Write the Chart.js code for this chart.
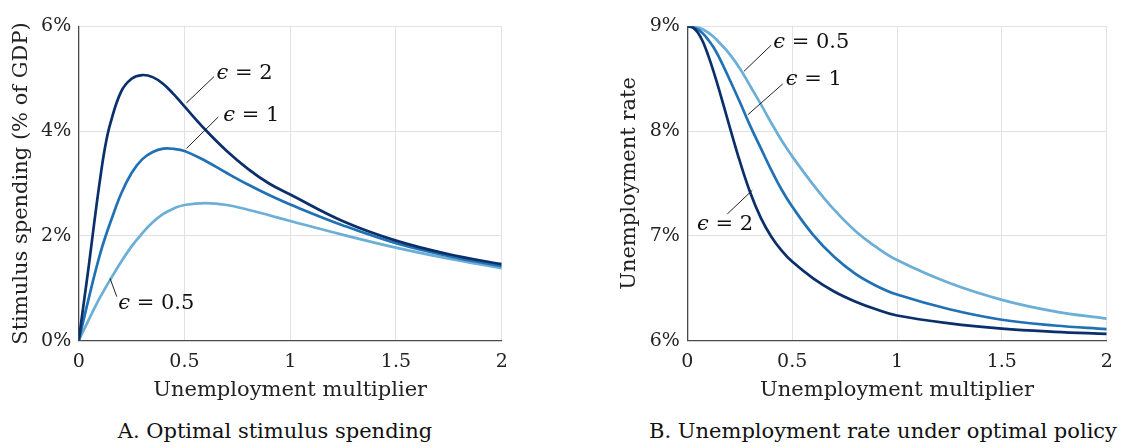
<!DOCTYPE html>
<html>
<head>
<meta charset="utf-8">
<script src="https://cdn.jsdelivr.net/npm/chart.js@4.4.1/dist/chart.umd.min.js"></script>
<style>
  body { margin: 0; background: #fff; width: 1127px; height: 448px; position: relative; overflow: hidden; font-family: "DejaVu Serif", serif; }
  #boxA { position: absolute; left: 0; top: 0; width: 560px; height: 410px; }
  #boxB { position: absolute; left: 600px; top: 0; width: 527px; height: 410px; }
  .cap { position: absolute; top: 419px; font-size: 21px; line-height: 24px; color: #111; white-space: nowrap; transform: translateX(-50%); }
</style>
</head>
<body>
<div id="boxA"><canvas id="chartA"></canvas></div>
<div id="boxB"><canvas id="chartB"></canvas></div>
<div class="cap" style="left:275px">A. Optimal stimulus spending</div>
<div class="cap" style="left:883px">B. Unemployment rate under optimal policy</div>

<script>
// unemployment multiplier (x) sample points, shared by both panels
const multiplier = [0, 0.025, 0.05, 0.075, 0.1, 0.125, 0.15, 0.2, 0.25, 0.3, 0.35, 0.4, 0.45, 0.5, 0.6, 0.7, 0.8, 0.9, 1, 1.25, 1.5, 1.75, 2];

// panel A: stimulus spending, % of GDP
const spendEps2   = [0, 0.75, 1.5, 2.3, 3.05, 3.7, 4.15, 4.75, 5.0, 5.07, 5.03, 4.9, 4.7, 4.47, 4.02, 3.62, 3.28, 3.0, 2.79, 2.28, 1.91, 1.65, 1.46];
const spendEps1   = [0, 0.43, 0.85, 1.26, 1.64, 1.97, 2.26, 2.8, 3.2, 3.46, 3.6, 3.665, 3.66, 3.62, 3.43, 3.2, 2.98, 2.78, 2.6, 2.2, 1.86, 1.615, 1.42];
const spendEps05  = [0, 0.21, 0.42, 0.625, 0.82, 1.0, 1.17, 1.5, 1.8, 2.05, 2.26, 2.42, 2.525, 2.59, 2.625, 2.59, 2.5, 2.395, 2.285, 2.02, 1.775, 1.565, 1.385];

// panel B: unemployment rate, %
const unempEps2   = [9, 8.99, 8.94, 8.85, 8.72, 8.57, 8.405, 8.055, 7.715, 7.415, 7.175, 6.995, 6.86, 6.755, 6.595, 6.47, 6.375, 6.3, 6.24, 6.165, 6.115, 6.085, 6.065];
const unempEps1   = [9, 8.995, 8.97, 8.93, 8.87, 8.8, 8.71, 8.5, 8.28, 8.05, 7.84, 7.63, 7.44, 7.28, 7.01, 6.8, 6.64, 6.525, 6.44, 6.3, 6.2, 6.145, 6.11];
const unempEps05  = [9, 9.0, 8.99, 8.97, 8.94, 8.9, 8.85, 8.74, 8.6, 8.43, 8.26, 8.08, 7.91, 7.76, 7.49, 7.25, 7.05, 6.895, 6.77, 6.55, 6.39, 6.28, 6.21];

const xTicks = [0, 0.5, 1, 1.5, 2];
const yTicksA = [0, 2, 4, 6];
const yTicksB = [6, 7, 8, 9];

const DARK = '#0a2f6b', MID = '#2171b5', LIGHT = '#6baed6';

// label callouts (data coordinates): leader line from curve to label, label baseline
const notesA = [
  { eps: '2',   x0: 0.51,  y0: 4.54, x1: 0.64, y1: 5.04, tx: 0.652, ty: 5.0 },
  { eps: '1',   x0: 0.51,  y0: 3.67, x1: 0.66, y1: 4.27, tx: 0.684, ty: 4.19 },
  { eps: '0.5', x0: 0.148, y0: 1.19, x1: 0.18, y1: 0.84, tx: 0.187, ty: 0.6 }
];
const notesB = [
  { eps: '0.5', x0: 0.27,  y0: 8.57, x1: 0.40,  y1: 8.82, tx: 0.41,  ty: 8.79 },
  { eps: '1',   x0: 0.289, y0: 8.157, x1: 0.455, y1: 8.45, tx: 0.47, ty: 8.44 },
  { eps: '2',   x0: 0.31,  y0: 7.435, x1: 0.191, y1: 7.21, tx: 0.046, ty: 7.06 }
];

Chart.defaults.font.family = '"DejaVu Serif", serif';
Chart.defaults.color = '#222';

const calloutPlugin = {
  id: 'callouts',
  afterDatasetsDraw(chart, args, opts) {
    const { ctx } = chart;
    const xs = chart.scales.x, ys = chart.scales.y;
    ctx.save();
    opts.notes.forEach(n => {
      ctx.strokeStyle = '#222';
      ctx.lineWidth = 1;
      ctx.beginPath();
      ctx.moveTo(xs.getPixelForValue(n.x0), ys.getPixelForValue(n.y0));
      ctx.lineTo(xs.getPixelForValue(n.x1), ys.getPixelForValue(n.y1));
      ctx.stroke();
      let tx = xs.getPixelForValue(n.tx);
      const ty = ys.getPixelForValue(n.ty);
      ctx.fillStyle = '#111';
      ctx.textBaseline = 'alphabetic';
      ctx.textAlign = 'left';
      ctx.font = 'italic 21px "DejaVu Serif", serif';
      ctx.fillText('\u03F5', tx, ty);
      tx += ctx.measureText('\u03F5').width;
      ctx.font = '21px "DejaVu Serif", serif';
      ctx.fillText(' = ' + n.eps, tx, ty);
    });
    ctx.restore();
  }
};

function series(values, color) {
  return {
    data: multiplier.map((x, i) => ({ x: x, y: values[i] })),
    borderColor: color,
    borderWidth: 2.7,
    pointRadius: 0,
    fill: false,
    tension: 0.4
  };
}

function makeChart(id, datasets, yMin, yMax, yTicks, yTitle, yWidth, yTitlePad, padRight, notes) {
  return new Chart(document.getElementById(id), {
    type: 'line',
    data: { datasets: datasets },
    plugins: [calloutPlugin],
    options: {
      responsive: true,
      maintainAspectRatio: false,
      animation: false,
      layout: { padding: { left: 0, top: 26.3, right: padRight, bottom: 0 } },
      plugins: {
        legend: { display: false },
        tooltip: { enabled: false },
        callouts: { notes: notes }
      },
      scales: {
        x: {
          type: 'linear',
          min: 0, max: 2,
          afterBuildTicks: s => { s.ticks = xTicks.map(v => ({ value: v })); },
          afterFit: s => { s.height = 69.3; },
          grid: { color: '#e2e2e2', lineWidth: 1, drawTicks: false },
          border: { color: '#4a4a4a', width: 1.3 },
          ticks: { font: { size: 19 }, padding: 10, maxRotation: 0, callback: v => String(v) },
          title: { display: true, text: 'Unemployment multiplier', font: { size: 21 }, padding: { top: 0, bottom: 7 } }
        },
        y: {
          min: yMin, max: yMax,
          afterBuildTicks: s => { s.ticks = yTicks.map(v => ({ value: v })); },
          afterFit: s => { s.width = yWidth; },
          grid: { color: '#e2e2e2', lineWidth: 1, drawTicks: false },
          border: { color: '#4a4a4a', width: 1.3 },
          ticks: { font: { size: 19 }, padding: 7.5, callback: v => v + '%' },
          title: { display: true, text: yTitle, font: { size: 21 }, padding: { top: yTitlePad, bottom: 0 } }
        }
      }
    }
  });
}

makeChart('chartA',
  [series(spendEps2, DARK), series(spendEps1, MID), series(spendEps05, LIGHT)],
  0, 6, yTicksA, 'Stimulus spending (% of GDP)', 78.7, 9.4, 560 - 501.7, notesA);

makeChart('chartB',
  [series(unempEps2, DARK), series(unempEps1, MID), series(unempEps05, LIGHT)],
  6, 9, yTicksB, 'Unemployment rate', 87.3, 17.4, 527 - 506.7, notesB);
</script>
</body>
</html>
